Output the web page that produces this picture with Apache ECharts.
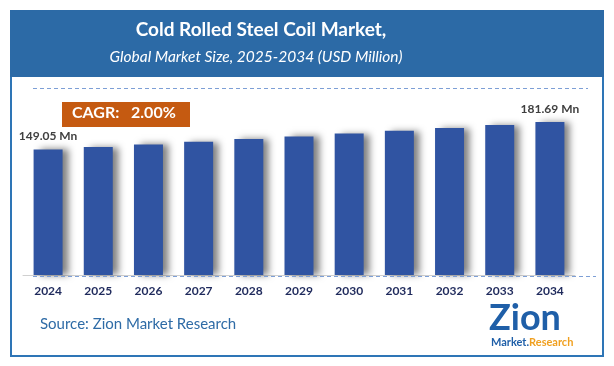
<!DOCTYPE html>
<html><head><meta charset="utf-8">
<script src="https://cdn.jsdelivr.net/npm/echarts@6/dist/echarts.min.js"></script>
<style>html,body{margin:0;padding:0;background:#fff}#c{width:614px;height:366px}</style>
</head><body><div id="c"></div>
<script>
const years = ['2024','2025','2026','2027','2028','2029','2030','2031','2032','2033','2034'];
const values = [149.05,152.03,155.07,158.17,161.34,164.56,167.85,171.21,174.64,178.13,181.69];
const labeledIdx = [0, 10];
const titleText = 'Cold Rolled Steel Coil Market,';
const subtitleText = 'Global Market Size, 2025-2034 (USD Million)';
const cagrText = 'CAGR:   2.00%';
const sourceText = 'Source: Zion Market Research';

const chart = echarts.init(document.getElementById('c'), null, {renderer:'canvas'});
const font = 'Lato, "Open Sans", sans-serif';
chart.setOption({
  animation:false,
  grid:{left:23, right:39, top:88, bottom:91},
  xAxis:{type:'category', data:years,
    axisLine:{show:true, lineStyle:{color:'#d0d0d0', width:1}},
    axisTick:{show:false},
    axisLabel:{color:'#1f2a5c', fontWeight:'bold', fontSize:12, fontFamily:font, margin:10}},
  yAxis:{type:'value', min:0, max:222, show:false, splitLine:{show:false}},
  series:[{
    type:'bar', data:values, barWidth:29,
    itemStyle:{color:'#3054a2', shadowColor:'rgba(0,0,0,0.5)', shadowBlur:7, shadowOffsetX:6, shadowOffsetY:0},
    label:{show:true, position:'top', distance:7, color:'#404040', fontWeight:'bold', fontSize:12, fontFamily:font,
      formatter:p => labeledIdx.includes(p.dataIndex) ? p.value.toFixed(2)+' Mn' : ''}
  }],
  graphic:[
    {type:'rect', shape:{x:11, y:11, width:592, height:345}, style:{fill:'none', stroke:'#2e75b6', lineWidth:2}, z:10},
    {type:'rect', shape:{x:10, y:10, width:594, height:67}, style:{fill:'#2c6aa6'}, z:11},
    {type:'text', x:261, y:30, style:{text:titleText, fill:'#fff', font:'bold 19px '+font, textAlign:'center', textVerticalAlign:'middle'}, z:12},
    {type:'text', x:256, y:57, style:{text:subtitleText, fill:'#fff', font:'italic 15.5px '+font, textAlign:'center', textVerticalAlign:'middle'}, z:12},
    {type:'line', shape:{x1:33, y1:88.5, x2:588, y2:88.5}, style:{stroke:'#7d9fd6', lineWidth:1, lineDash:[4,3]}, z:5},
    {type:'line', shape:{x1:33, y1:276.5, x2:596, y2:276.5}, style:{stroke:'#7d9fd6', lineWidth:1, lineDash:[4,3]}, z:5},
    {type:'rect', shape:{x:62, y:102, width:128, height:25}, style:{fill:'#c55a11'}, z:12},
    {type:'text', x:72, y:105, style:{text:cagrText, fill:'#fff', font:'bold 16px '+font}, z:13},
    {type:'text', x:40, y:317, style:{text:sourceText, fill:'#2e6ba6', font:'15px '+font}, z:12},
    {type:'text', x:489, y:300, style:{text:'Zion', fill:'#1f5fa8', font:'bold 36px '+font}, z:12},
    {type:'text', x:491, y:337, style:{rich:{a:{fill:'#1f5fa8', font:'bold 11px '+font}, b:{fill:'#f0a020', font:'bold 11px '+font}}, text:'{a|Market.}{b|Research}'}, z:12}
  ]
});
</script></body></html>
